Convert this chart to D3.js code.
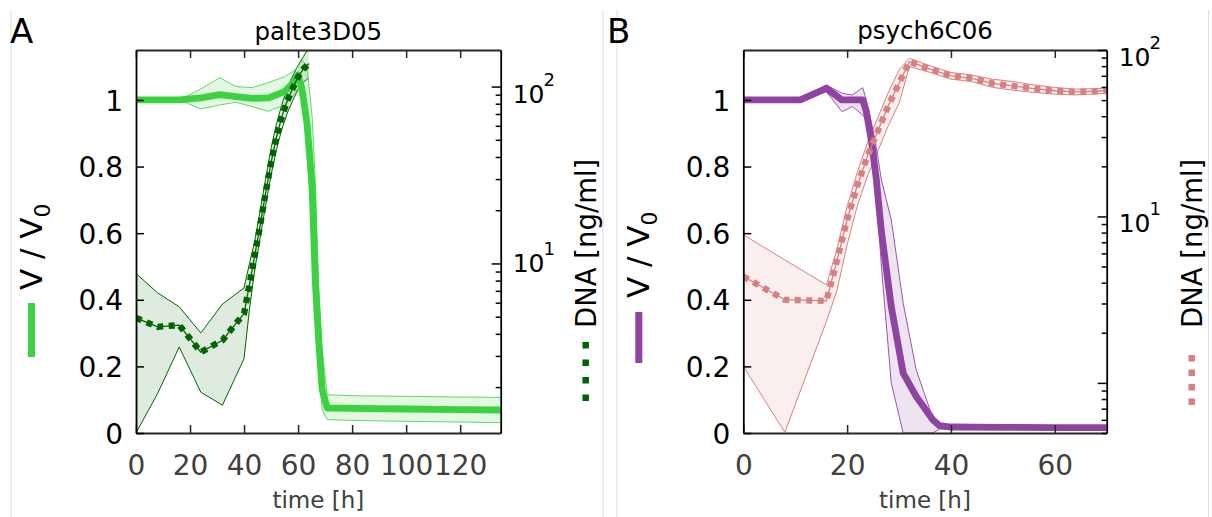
<!DOCTYPE html>
<html>
<head>
<meta charset="utf-8">
<script src="https://cdn.jsdelivr.net/npm/d3@7"></script>
<style>
  body { margin: 0; background: #fff; }
  svg { display: block; }
  text { font-family: "DejaVu Sans", sans-serif; }
</style>
</head>
<body>
<svg id="fig" width="1212" height="517"></svg>
<script>
// ---- Panel A: palte3D05 ----
// relative volume V/V0 (mean and band)
const timeA_V = [0, 8, 16, 24, 31, 37, 43, 49, 55, 58, 60, 61.5, 63.3, 65.2, 66.4, 67.6, 68.9, 70.8, 80, 100, 120, 135];
const volA    = [1, 1, 1, 1.006, 1.016, 1.01, 1.005, 1.006, 1.025, 1.05, 1.075, 1.03, 0.93, 0.74, 0.45, 0.28, 0.13, 0.075, 0.074, 0.072, 0.07, 0.069];
const volA_hi = [1, 1, 1, 1.033, 1.067, 1.04, 1.037, 1.052, 1.07, 1.085, 1.1, 1.12, 1.1, 0.95, 0.75, 0.45, 0.25, 0.115, 0.112, 0.11, 0.108, 0.107];
const volA_lo = [1, 1, 1, 0.973, 0.985, 0.993, 0.98, 0.966, 0.985, 1.01, 1.035, 1.0, 0.85, 0.6, 0.35, 0.2, 0.07, 0.04, 0.038, 0.035, 0.033, 0.031];
// DNA concentration [ng/ml]
const timeA_D = [0, 8, 16, 24, 32, 40, 42, 44, 46, 48, 50, 52, 54, 56, 58, 60, 62, 64];
const dnaA    = [4.92, 4.38, 4.48, 3.15, 3.68, 5.21, 7.59, 11.2, 16.6, 25.1, 37.2, 51.9, 67.6, 83.2, 97.7, 113.5, 125.9, 134.9];
const dnaA_hi = [8.77, 6.82, 5.68, 4.05, 5.89, 7.28, 10.0, 13.5, 20.0, 30.2, 44.7, 61.7, 79.4, 97.7, 114.8, 131.8, 147.9, 166.0];
const dnaA_lo = [1.10, 1.84, 3.37, 1.87, 1.58, 2.90, 5.50, 9.33, 14.1, 21.4, 31.6, 44.2, 57.5, 70.8, 83.2, 96.6, 105.9, 112.2];

// ---- Panel B: psych6C06 ----
const timeB_V = [0, 8, 11, 16, 19, 21, 23, 23.7, 24.7, 25.6, 26.6, 28.5, 30.8, 33.3, 36.5, 37.8, 40, 50, 60, 70];
const volB    = [1, 1, 1, 1.035, 1.0, 1.0, 1.0, 0.965, 0.875, 0.765, 0.605, 0.38, 0.18, 0.11, 0.04, 0.022, 0.018, 0.017, 0.016, 0.016];
const volB_hi = [1, 1, 1, 1.045, 1.02, 1.015, 1.037, 1.0, 0.93, 0.86, 0.76, 0.64, 0.39, 0.19, 0.045, 0.025, 0.02, 0.019, 0.018, 0.018];
const volB_lo = [1, 1, 1, 1.025, 0.965, 0.98, 0.955, 0.94, 0.85, 0.73, 0.5, 0.15, 0, 0, 0, 0.012, 0.013, 0.013, 0.012, 0.012];
const timeB_D = [0, 8, 16, 18, 20, 22, 24, 26, 28, 30, 32, 36, 40, 44, 48, 52, 56, 60, 64, 68, 70];
const dnaB    = [4.36, 3.16, 3.11, 5.37, 9.55, 15.5, 23.4, 33.1, 46.8, 63.1, 85.1, 76.7, 70.0, 67.6, 63.1, 60.8, 58.6, 56.9, 56.0, 56.5, 57.0];
const dnaB_hi = [7.76, 5.48, 3.88, 6.31, 11.5, 18.6, 28.2, 39.8, 56.2, 75.9, 89.1, 80.4, 73.3, 70.8, 66.8, 64.6, 61.7, 59.6, 58.2, 58.6, 59.2];
const dnaB_lo = [1.26, 0.505, 2.34, 3.55, 6.76, 11.7, 17.8, 25.1, 35.5, 47.9, 79.4, 73.3, 66.8, 64.6, 59.6, 57.3, 55.6, 54.3, 53.7, 54.5, 55.0];

// ---- axis ticks ----
const xTicksA = [0, 20, 40, 60, 80, 100, 120];
const xTicksB = [0, 20, 40, 60];
const yTicks = [0, 0.2, 0.4, 0.6, 0.8, 1];
const yTickLabels = ["0", "0.2", "0.4", "0.6", "0.8", "1"];
const logLabelsA = [10, 100];
const logLabelsB = [10, 100];

const svg = d3.select("#fig");

// thin frame lines separating the two sub-figures
[11, 603, 617, 1208.5].forEach(xx => {
  svg.append("line").attr("x1", xx).attr("x2", xx).attr("y1", 10).attr("y2", 517)
    .attr("stroke", "#dcdcdc").attr("stroke-width", 1);
});

function drawPanel(cfg) {
  const g = svg.append("g");
  const x = d3.scaleLinear().domain([0, cfg.xMax]).range([cfg.x0, cfg.x1]);
  const yL = d3.scaleLinear().domain([0, 1.15]).range([cfg.y1, cfg.y0]);
  const yR = d3.scaleLog().domain(cfg.dnaDomain).range([cfg.y1, cfg.y0]);

  g.append("clipPath").attr("id", cfg.id + "-clip")
    .append("rect").attr("x", cfg.x0).attr("y", cfg.y0)
    .attr("width", cfg.x1 - cfg.x0).attr("height", cfg.y1 - cfg.y0);
  const plot = g.append("g").attr("clip-path", `url(#${cfg.id}-clip)`);

  const idxD = d3.range(cfg.tD.length);
  const idxV = d3.range(cfg.tV.length);

  // DNA band
  plot.append("path").datum(idxD)
    .attr("d", d3.area().x(i => x(cfg.tD[i])).y0(i => yR(cfg.dLo[i])).y1(i => yR(cfg.dHi[i])))
    .attr("fill", cfg.dnaColor).attr("fill-opacity", 0.13).attr("stroke", "none");
  [cfg.dHi, cfg.dLo].forEach(arr => {
    plot.append("path").datum(idxD)
      .attr("d", d3.line().x(i => x(cfg.tD[i])).y(i => yR(arr[i])))
      .attr("fill", "none").attr("stroke", cfg.dnaColor).attr("stroke-width", 1);
  });

  // volume band
  plot.append("path").datum(idxV)
    .attr("d", d3.area().x(i => x(cfg.tV[i])).y0(i => yL(cfg.vLo[i])).y1(i => yL(cfg.vHi[i])))
    .attr("fill", cfg.volColor).attr("fill-opacity", 0.15).attr("stroke", "none");
  [cfg.vHi, cfg.vLo].forEach(arr => {
    plot.append("path").datum(idxV)
      .attr("d", d3.line().x(i => x(cfg.tV[i])).y(i => yL(arr[i])))
      .attr("fill", "none").attr("stroke", cfg.volEdge).attr("stroke-width", 1);
  });
  // volume mean
  plot.append("path").datum(idxV)
    .attr("d", d3.line().x(i => x(cfg.tV[i])).y(i => yL(cfg.v[i])))
    .attr("fill", "none").attr("stroke", cfg.volColor).attr("stroke-width", 6.8)
    .attr("stroke-linejoin", "round");

  // DNA mean: thin connecting line plus thick dotted line
  const dnaLine = d3.line().x(i => x(cfg.tD[i])).y(i => yR(cfg.d[i]));
  plot.append("path").datum(idxD).attr("d", dnaLine)
    .attr("fill", "none").attr("stroke", cfg.dnaColor).attr("stroke-width", 1.3);
  plot.append("path").datum(idxD).attr("d", dnaLine)
    .attr("fill", "none").attr("stroke", cfg.dnaColor).attr("stroke-width", 6.3)
    .attr("stroke-dasharray", "6,5.5");

  // ---- axes ----
  const axisColor = "#000";
  const xAxisColor = "#262626";
  const bottom = g.append("g").attr("transform", `translate(0,${cfg.y1})`)
    .call(d3.axisBottom(x).tickValues(cfg.xTicks).tickSize(-8).tickSizeOuter(0).tickPadding(22));
  bottom.select(".domain").attr("stroke", xAxisColor).attr("stroke-width", 1.8);
  bottom.selectAll(".tick line").attr("stroke", xAxisColor).attr("stroke-width", 1.5);
  bottom.selectAll(".tick text").attr("font-size", 28).attr("fill", "#404040")
    .attr("font-family", "DejaVu Sans");

  const top = g.append("g").attr("transform", `translate(0,${cfg.y0})`)
    .call(d3.axisTop(x).tickValues(cfg.xTicks).tickSize(-8).tickSizeOuter(0).tickFormat(""));
  top.select(".domain").attr("stroke", xAxisColor).attr("stroke-width", 1.8);
  top.selectAll(".tick line").attr("stroke", xAxisColor).attr("stroke-width", 1.5);

  const left = g.append("g").attr("transform", `translate(${cfg.x0},0)`)
    .call(d3.axisLeft(yL).tickValues(yTicks).tickSize(-8).tickSizeOuter(0).tickPadding(13)
      .tickFormat((d, i) => yTickLabels[i]));
  left.select(".domain").attr("stroke", axisColor).attr("stroke-width", 1.8);
  left.selectAll(".tick line").attr("stroke", axisColor).attr("stroke-width", 1.5);
  left.selectAll(".tick text").attr("font-size", 28).attr("fill", "#000")
    .attr("font-family", "DejaVu Sans").attr("dy", "0.36em");

  // right log axis: minor and major ticks
  const allTicks = yR.ticks();
  const major = allTicks.filter(v => Math.abs(Math.log10(v) - Math.round(Math.log10(v))) < 1e-9);
  const minor = allTicks.filter(v => !major.includes(v));
  const rightMinor = g.append("g").attr("transform", `translate(${cfg.x1},0)`)
    .call(d3.axisRight(yR).tickValues(minor).tickSize(-5).tickSizeOuter(0).tickFormat(""));
  rightMinor.select(".domain").attr("stroke", axisColor).attr("stroke-width", 1.8);
  rightMinor.selectAll(".tick line").attr("stroke", axisColor).attr("stroke-width", 1.5);
  const rightMajor = g.append("g").attr("transform", `translate(${cfg.x1},0)`)
    .call(d3.axisRight(yR).tickValues(major).tickSize(-9).tickSizeOuter(0).tickFormat(""));
  rightMajor.select(".domain").remove();
  rightMajor.selectAll(".tick line").attr("stroke", axisColor).attr("stroke-width", 1.5);

  const logLab = g.append("g").selectAll("text").data(cfg.logLabels).join("text")
    .attr("x", cfg.x1 + 12).attr("y", (d, i) => yR(d) + cfg.logLabelDy[i])
    .attr("font-size", 25).attr("fill", "#000");
  logLab.append("tspan").text("10");
  logLab.append("tspan").attr("font-size", 18).attr("dy", -17).attr("dx", -1)
    .text(d => String(Math.round(Math.log10(d))));

  // titles and panel letters
  svg.append("text").attr("x", (cfg.x0 + cfg.x1) / 2).attr("y", cfg.titleY)
    .attr("text-anchor", "middle").attr("font-size", 24.5).attr("fill", "#000").text(cfg.title);
  svg.append("text").attr("x", cfg.letterX).attr("y", 43)
    .attr("font-size", 34).attr("fill", "#000").text(cfg.letter);
  svg.append("text").attr("x", (cfg.x0 + cfg.x1) / 2).attr("y", 508)
    .attr("text-anchor", "middle").attr("font-size", 23).attr("fill", "#404040").text("time [h]");

  // left label with its line legend
  const vl = svg.append("text")
    .attr("transform", `translate(${cfg.x0 - 94},${cfg.vLabelY}) rotate(-90)`)
    .attr("font-size", 31).attr("fill", "#000");
  vl.append("tspan").text("V / V");
  vl.append("tspan").attr("font-size", 22).attr("dy", 8).text("0");
  svg.append("line").attr("x1", cfg.x0 - 104.5).attr("x2", cfg.x0 - 104.5)
    .attr("y1", cfg.vLegend[0]).attr("y2", cfg.vLegend[1])
    .attr("stroke", cfg.volColor).attr("stroke-width", 7);

  // right label with its dotted legend
  svg.append("text")
    .attr("transform", `translate(${cfg.x1 + 95},328) rotate(-90)`)
    .attr("font-size", 27.5).attr("fill", "#000").text("DNA [ng/ml]");
  svg.append("line").attr("x1", cfg.x1 + 85).attr("x2", cfg.x1 + 85)
    .attr("y1", cfg.dLegend[0]).attr("y2", cfg.dLegend[1])
    .attr("stroke", cfg.dnaColor).attr("stroke-width", 6.5)
    .attr("stroke-dasharray", cfg.dLegendDash);
}

drawPanel({
  id: "A", letter: "A", letterX: 10, title: "palte3D05", titleY: 40,
  x0: 136, x1: 500.7, y0: 50, y1: 433, xMax: 135, dnaDomain: [1.1, 161],
  xTicks: xTicksA, logLabels: logLabelsA, logLabelDy: [9, 16],
  tV: timeA_V, v: volA, vHi: volA_hi, vLo: volA_lo,
  tD: timeA_D, d: dnaA, dHi: dnaA_hi, dLo: dnaA_lo,
  volColor: "#3bd141", volEdge: "#5fd964", dnaColor: "#006400",
  vLabelY: 290, vLegend: [303, 357], dLegend: [342, 401], dLegendDash: "6.5,11"
});

drawPanel({
  id: "B", letter: "B", letterX: 607, title: "psych6C06", titleY: 38.5,
  x0: 743.3, x1: 1106.7, y0: 50, y1: 433, xMax: 70, dnaDomain: [0.5, 100],
  xTicks: xTicksB, logLabels: logLabelsB, logLabelDy: [15.5, 15.5],
  tV: timeB_V, v: volB, vHi: volB_hi, vLo: volB_lo,
  tD: timeB_D, d: dnaB, dHi: dnaB_hi, dLo: dnaB_lo,
  volColor: "#8e44a0", volEdge: "#9a55ab", dnaColor: "#d88080",
  vLabelY: 298, vLegend: [312, 363], dLegend: [355, 405], dLegendDash: "6.5,8"
});
</script>
</body>
</html>
